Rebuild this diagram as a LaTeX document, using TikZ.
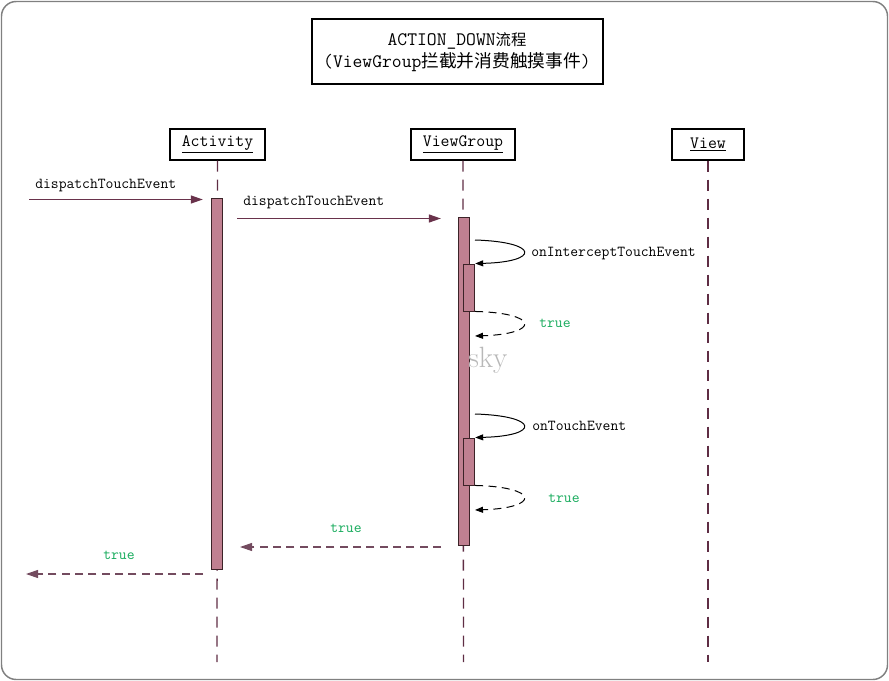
\documentclass[tikz,border=0pt]{standalone}
\usepackage{fontspec}
\newfontfamily\cjk{Noto Sans CJK SC}
\usetikzlibrary{arrows.meta}
\definecolor{framecol}{RGB}{128,128,128}
\definecolor{msgcol}{RGB}{105,50,75}
\definecolor{retcol}{RGB}{115,75,95}
\definecolor{lifecol}{RGB}{95,45,68}
\definecolor{actfill}{RGB}{192,128,145}
\definecolor{actline}{RGB}{60,35,40}
\definecolor{truecol}{RGB}{20,170,90}
\begin{document}
\begin{tikzpicture}[x=0.75pt,y=-0.75pt,
  headbox/.style={draw=black, line width=0.9pt, inner sep=0pt, minimum height=23.25pt,
    font=\ttfamily\fontsize{13}{15}\selectfont},
  lifeline/.style={draw=lifecol, line width=1pt, dash pattern=on 8.25pt off 6pt},
  actbar/.style={draw=actline, fill=actfill, line width=0.7pt, inner sep=0pt, minimum width=8.6pt},
  msg/.style={draw=msgcol, line width=0.9pt, -{Triangle[length=9pt,width=6pt]}},
  retmsg/.style={msg, draw=retcol, line width=0.8pt, dash pattern=on 6pt off 4pt},
  selfcall/.style={draw=black, line width=0.75pt, -{Triangle[length=6pt,width=4.5pt]}},
  selfret/.style={selfcall, dash pattern=on 6pt off 4pt},
  lbl/.style={anchor=base west, inner sep=0pt, font=\ttfamily\fontsize{11.4}{13}\selectfont},
  truelbl/.style={lbl, text=truecol}]
\useasboundingbox (0,0) rectangle (889,681);
% frame
\draw[framecol, line width=1.1pt, rounded corners=11pt] (1.5,1.5) rectangle (887.5,679.5);
% title
\node[draw=black, line width=0.8pt, minimum width=218.25pt, minimum height=48.75pt] (title) at (457.5,51.5) {};
\node[anchor=base, inner sep=0pt] (t1) at (457,46)
  {\ttfamily\fontsize{14.3}{16}\selectfont ACTION\_DOWN{\cjk\fontsize{11.5}{14}\selectfont 流程}};
\node[anchor=base, inner sep=0pt] (t2) at (457,68)
  {\ttfamily\fontsize{14.3}{16}\selectfont (ViewGroup{\cjk\fontsize{13.3}{16}\selectfont 拦截并消费触摸事件})};
% headers
\node[headbox, minimum width=71.25pt] (act) at (217.5,144.5) {\underline{Activity}};
\node[headbox, minimum width=78pt] (vg) at (463,144.5) {\underline{ViewGroup}};
\node[headbox, minimum width=54pt] (view) at (708,144.5) {\underline{View}};
% lifelines
\coordinate (actend) at (217,662);
\coordinate (vgend) at (463.5,662);
\coordinate (viewend) at (708,662);
\draw[lifeline] (act.south) -- (actend);
\draw[lifeline] (vg.south) -- (vgend);
\draw[lifeline] (view.south) -- (viewend);
% activation bars
\node[actbar, minimum height=278.25pt] (abar) at (217,383.5) {};
\node[actbar, minimum width=8.25pt, minimum height=246pt] (vbar) at (463.5,381) {};
\node[actbar, minimum height=35.25pt] (vs1) at (469,287.5) {};
\node[actbar, minimum height=35.25pt] (vs2) at (469,461.5) {};
% incoming dispatch
\coordinate (in1) at (29,199.5);
\draw[msg, shorten >=6pt] (in1) -- (abar.west|-in1);
\node[lbl] (l1) at (35,189) {dispatchTouchEvent};
% dispatch to ViewGroup
\coordinate (m2) at (223,218.5);
\draw[msg, shorten <=10.5pt, shorten >=12.5pt] (m2) -- (vbar.west|-m2);
\node[lbl] (l2) at (243,206) {dispatchTouchEvent};
% onInterceptTouchEvent
\coordinate (c1s) at (475,240);
\draw[selfcall] (c1s) .. controls (540,242) and (540,262) .. (vs1.north east);
\node[lbl] (l3) at (531,256) {onInterceptTouchEvent};
\coordinate (c1e) at (475,336);
\draw[selfret] (vs1.south east) .. controls (540,313) and (540,334) .. (c1e);
\node[truelbl] (l4) at (539,327) {true};
% watermark
\node[anchor=base west, inner sep=0pt, text=black!28, font=\rmfamily\fontsize{22}{24}\selectfont] (sky) at (468,367) {sky};
% onTouchEvent
\coordinate (c2s) at (475,414);
\draw[selfcall] (c2s) .. controls (540,416) and (540,436) .. (vs2.north east);
\node[lbl] (l5) at (532,430) {onTouchEvent};
\coordinate (c2e) at (475,510);
\draw[selfret] (vs2.south east) .. controls (540,487) and (540,508) .. (c2e);
\node[truelbl] (l6) at (548,502) {true};
% return to Activity
\coordinate (r1s) at (441,547);
\coordinate (r1e) at (240,547);
\draw[retmsg] (r1s) -- (r1e);
\node[truelbl] (l7) at (330,532) {true};
% return out
\coordinate (r2s) at (203,574);
\coordinate (r2e) at (26,574);
\draw[retmsg] (r2s) -- (r2e);
\node[truelbl] (l8) at (103,559) {true};
\end{tikzpicture}
\end{document}
